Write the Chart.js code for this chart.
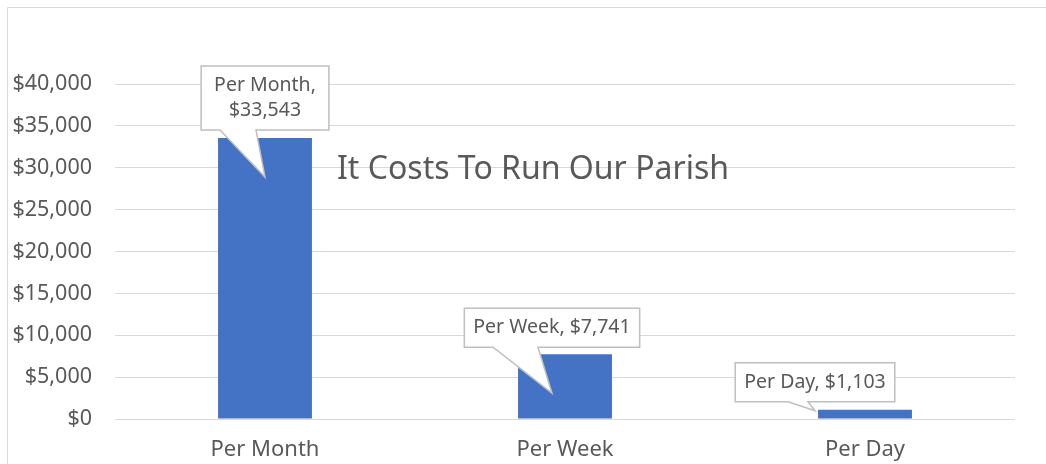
<!DOCTYPE html>
<html>
<head>
    <title>It Costs To Run Our Parish</title>
    <script src="https://cdn.jsdelivr.net/npm/chart.js"></script>
    <style>
        html, body { margin: 0; padding: 0; background: #ffffff; }
        canvas { display: block; }
    </style>
</head>
<body>
<canvas id="costChart" width="1046" height="464"></canvas>
<script>
    // Datos del grafico
    const categories = ['Per Month', 'Per Week', 'Per Day'];
    const costs = [33543, 7741, 1103];
    const yTicks = [0, 5000, 10000, 15000, 20000, 25000, 30000, 35000, 40000];
    const chartTitle = 'It Costs To Run Our Parish';

    const gray = '#595959';
    const fontFamily = '"Noto Sans", "Open Sans", sans-serif';

    function money(v) {
        return '$' + Number(v).toLocaleString('en-US');
    }

    // Textos de las etiquetas (globos)
    const calloutLines = [
        [categories[0] + ',', money(costs[0])],
        [categories[1] + ', ' + money(costs[1])],
        [categories[2] + ', ' + money(costs[2])]
    ];
    // Posicion de cada globo respecto a su barra
    const calloutPlace = [
        { dx: 0, gap: 8, tipDy: 39, baseL: -45, baseR: -9, pad: 26 },
        { dx: -13, gap: 7, tipDy: 39, baseL: -59, baseR: -14, pad: 18 },
        { dx: -50, gap: 8, tipDy: 1, baseL: -27, baseR: -7, pad: 18 }
    ];

    // Marco exterior
    const framePlugin = {
        id: 'frame',
        beforeDraw(chart) {
            const c = chart.ctx;
            c.save();
            c.strokeStyle = '#d9d9d9';
            c.lineWidth = 1;
            c.beginPath();
            c.moveTo(7.5, chart.height);
            c.lineTo(7.5, 7.5);
            c.lineTo(chart.width, 7.5);
            c.stroke();
            c.restore();
        }
    };

    // Titulo dentro del area del grafico
    const titlePlugin = {
        id: 'innerTitle',
        afterDatasetsDraw(chart) {
            const c = chart.ctx;
            const area = chart.chartArea;
            const y = chart.scales.y;
            c.save();
            c.font = '32px ' + fontFamily;
            c.fillStyle = gray;
            c.textAlign = 'left';
            c.textBaseline = 'middle';
            c.fillText(chartTitle, area.left + 222, y.getPixelForValue(30000) + 2);
            c.restore();
        }
    };

    // Etiquetas tipo globo
    const calloutPlugin = {
        id: 'callouts',
        afterDatasetsDraw(chart) {
            const c = chart.ctx;
            const bars = chart.getDatasetMeta(0).data;
            c.save();
            c.font = '19.5px ' + fontFamily;
            bars.forEach((bar, i) => {
                const lines = calloutLines[i];
                const p = calloutPlace[i];
                const lineH = 25;
                const w = Math.max(...lines.map(t => c.measureText(t).width)) + p.pad;
                const h = lines.length * lineH + 14;
                const cx = bar.x + p.dx;
                const bottom = bar.y - p.gap;
                const top = bottom - h;
                const left = cx - w / 2;
                const right = cx + w / 2;
                const tipY = bar.y + p.tipDy;

                c.beginPath();
                c.moveTo(left, top);
                c.lineTo(right, top);
                c.lineTo(right, bottom);
                c.lineTo(cx + p.baseR, bottom);
                c.lineTo(cx, tipY);
                c.lineTo(cx + p.baseL, bottom);
                c.lineTo(left, bottom);
                c.closePath();
                c.fillStyle = '#ffffff';
                c.fill();
                c.strokeStyle = '#bfbfbf';
                c.lineWidth = 1.5;
                c.stroke();

                c.fillStyle = gray;
                c.textAlign = 'center';
                c.textBaseline = 'middle';
                lines.forEach((t, k) => {
                    c.fillText(t, cx, top + 7 + lineH * k + lineH / 2);
                });
            });
            c.restore();
        }
    };

    let ctx = document.getElementById('costChart').getContext('2d');
    let chart = new Chart(ctx, {
        type: 'bar',
        data: {
            labels: categories,
            datasets: [{
                data: costs,
                backgroundColor: '#4472c4',
                borderWidth: 0,
                barPercentage: 0.313,
                categoryPercentage: 1
            }]
        },
        options: {
            responsive: false,
            animation: false,
            layout: {
                padding: { top: 84, right: 31, bottom: 0, left: 0 }
            },
            plugins: {
                legend: { display: false },
                tooltip: { enabled: false },
                title: { display: false }
            },
            scales: {
                x: {
                    grid: { display: false, drawTicks: false },
                    border: { display: false },
                    ticks: {
                        color: gray,
                        padding: 18,
                        font: { family: fontFamily, size: 22 }
                    },
                    afterFit(scale) { scale.height = 45; }
                },
                y: {
                    min: 0,
                    max: 40000,
                    afterBuildTicks(scale) {
                        scale.ticks = yTicks.map(v => ({ value: v }));
                    },
                    grid: { color: '#d9d9d9', lineWidth: 1, drawTicks: false },
                    border: { display: false },
                    ticks: {
                        color: gray,
                        padding: 23,
                        font: { family: fontFamily, size: 21.5 },
                        callback: v => money(v)
                    },
                    afterFit(scale) { scale.width = 115; }
                }
            }
        },
        plugins: [framePlugin, titlePlugin, calloutPlugin]
    });
</script>
</body>
</html>
